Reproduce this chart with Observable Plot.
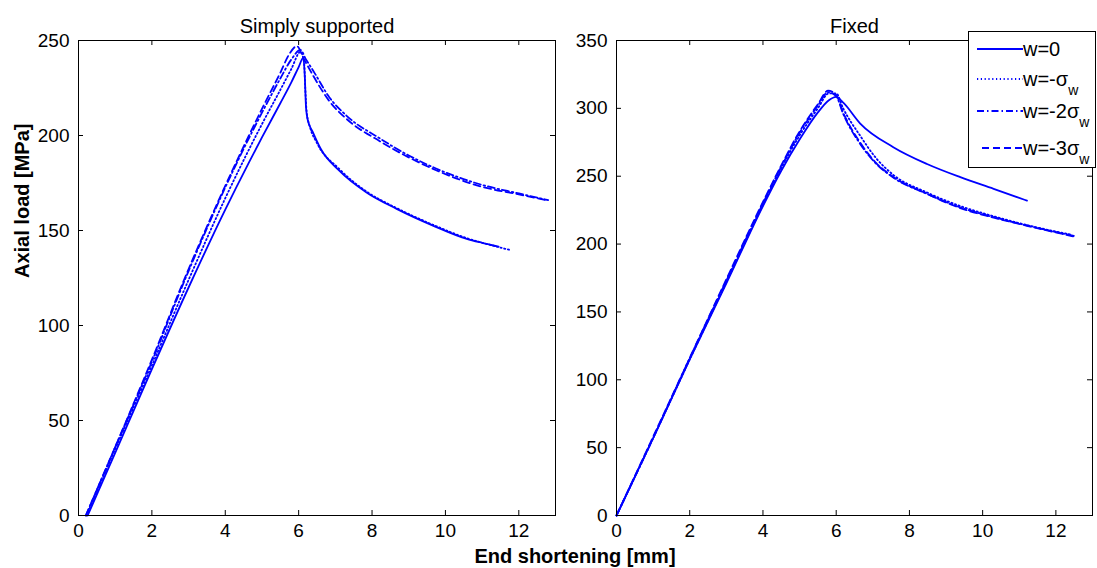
<!DOCTYPE html>
<html><head><meta charset="utf-8">
<script src="https://cdn.jsdelivr.net/npm/d3@7"></script>
<script src="https://cdn.jsdelivr.net/npm/@observablehq/plot@0.6"></script>
<style>
body{margin:0;background:#fff;font-family:"Liberation Sans",Arial,sans-serif;}
#wrap{position:relative;width:1097px;height:568px;overflow:hidden;background:#fff;}
#left,#right{position:absolute;top:0;}
#left{left:0}
#right{left:560px}
#xlabel{position:absolute;left:425px;width:300px;top:546px;text-align:center;font-weight:bold;font-size:20px;line-height:20px;}
#legend{position:absolute;left:968px;top:31px;width:128px;height:137px;border:1px solid #000;background:#fff;box-sizing:border-box;}
.row{position:absolute;left:0;height:20px;width:126px;}
.row svg{position:absolute;left:7px;top:0;}
.row span{position:absolute;left:54px;top:0;font-size:20px;line-height:20px;white-space:nowrap;}
.row sub{font-size:14px;vertical-align:-9px;line-height:0;}
</style>
</head><body>
<div id="wrap">
  <div id="left"></div>
  <div id="right"></div>
  <div id="xlabel"></div>
  <div id="legend"></div>
</div>
<script>
// ---------- data ----------
const xTicks = [0, 2, 4, 6, 8, 10, 12];
const yTicksLeft = [0, 50, 100, 150, 200, 250];
const yTicksRight = [0, 50, 100, 150, 200, 250, 300, 350];
const titles = ["Simply supported", "Fixed"];
const xLabel = "End shortening [mm]";
const yLabel = "Axial load [MPa]";
const seriesNames = ["w=0", "w=-σ", "w=-2σ", "w=-3σ"];

// Simply supported
const ssX0 = [0.25, 1, 2, 3, 4, 4.65, 5, 5.5, 5.8, 6.0, 6.13, 6.17, 6.2, 6.25, 6.38, 6.6, 7.1, 7.85, 8.67, 9.66, 10.58, 11.0, 11.45];
const ssY0 = [0, 33, 77, 120, 161, 186, 199, 217, 228, 236, 241, 230, 215, 208, 202, 193, 181.6, 170, 161.4, 152.6, 145.6, 143.5, 141.5];
const ssX1 = [0.22, 1, 2, 3, 4, 4.5, 5, 5.5, 5.8, 6.05, 6.15, 6.18, 6.22, 6.3, 6.5, 7.1, 7.85, 8.67, 9.66, 10.58, 11.4, 11.75];
const ssY1 = [0, 35, 79, 124, 167, 187, 206, 224, 235, 244, 238, 225, 212, 205, 196, 182.5, 170.5, 161.8, 153, 146, 141.5, 139.8];
const ssX2 = [0.2, 1, 2, 2.92, 4.3, 5, 5.5, 5.8, 6.05, 6.2, 6.4, 6.84, 7.3, 8.21, 9.0, 9.76, 11.0, 12.0, 12.8];
const ssY2 = [0, 36, 81, 125, 185, 212, 230, 240, 245, 240, 234, 220, 210.5, 198.5, 189.5, 182.5, 174, 169.5, 166];
const ssX3 = [0.2, 1, 2, 2.92, 4.3, 5, 5.5, 5.75, 5.95, 6.15, 6.38, 6.84, 7.3, 8.21, 9.0, 9.76, 11.0, 12.0, 12.75];
const ssY3 = [0, 36, 82, 126, 186, 214, 233, 243, 247, 240, 232, 218, 208.8, 197, 188.5, 181.6, 173, 169, 166];

// Fixed
const fxX0 = [0, 1, 2, 3, 4, 4.5, 5, 5.5, 5.8, 6.0, 6.2, 6.65, 7.56, 8.48, 9.39, 10.3, 11.21];
const fxY0 = [0, 57, 115, 171, 228, 254, 277, 297, 306, 308.5, 304, 289, 271.4, 259, 249.3, 240.7, 232];
const fxX1 = [0, 1, 2, 3, 4, 4.5, 5, 5.5, 5.8, 6.0, 6.19, 6.65, 7.1, 7.56, 8.48, 9.39, 10.3, 11.21, 12.4];
const fxY1 = [0, 57, 115, 172, 229, 256, 280, 300, 311, 311, 300, 280, 263, 251, 238, 228, 220.5, 214, 207];
const fxX2 = [0, 1, 2, 3, 4, 4.5, 5, 5.5, 5.78, 6.0, 6.19, 6.65, 7.1, 7.56, 8.48, 9.39, 10.3, 11.21, 12.49];
const fxY2 = [0, 57, 116, 173, 230, 257, 282, 302, 312, 309, 296, 274, 259, 249, 237, 227, 219.8, 213.7, 206];
const fxX3 = [0, 1, 2, 3, 4, 4.5, 5, 5.5, 5.78, 6.0, 6.19, 6.65, 7.1, 7.56, 8.48, 9.39, 10.3, 11.21, 12.5];
const fxY3 = [0, 58, 116, 174, 231, 258, 283, 303, 313, 310, 297, 275, 259.5, 249.5, 237, 226.5, 219.5, 213.5, 205.5];

// ---------- styles ----------
const blue = "#0000ff";
const dashes = [null, "1.2,2.6", "7,3,1.5,3", "7,4"];
const font = '"Liberation Sans", Arial, sans-serif';

function zip(xs, ys) { return xs.map((x, i) => ({x, y: ys[i]})); }

function panel({title, series, yTicks, yDomain, width, marginLeft, withYLabel}) {
  const marginTop = 40, marginBottom = 53, marginRight = 5, height = 568;
  const innerW = width - marginLeft - marginRight;
  const innerH = height - marginTop - marginBottom;
  const tick = 5;
  const marks = [
    ...series.map((s, i) => Plot.line(s, {x: "x", y: "y", stroke: blue, strokeWidth: 1.8,
      curve: "monotone-x", strokeDasharray: dashes[i] || undefined})),
    Plot.frame({stroke: "#000", strokeWidth: 1}),
    Plot.tickX(xTicks, {x: d => d, insetTop: innerH - tick, stroke: "#000"}),
    Plot.tickX(xTicks, {x: d => d, insetBottom: innerH - tick, stroke: "#000"}),
    Plot.tickY(yTicks, {y: d => d, insetRight: innerW - tick, stroke: "#000"}),
    Plot.tickY(yTicks, {y: d => d, insetLeft: innerW - tick, stroke: "#000"}),
    Plot.axisX(xTicks, {tickSize: 0, tickPadding: 8, label: null, fontSize: 19}),
    Plot.axisY(yTicks, {tickSize: 0, tickPadding: 9, label: null, fontSize: 19}),
    Plot.text([title], {text: d => d, frameAnchor: "top", dy: -22, fontSize: 20})
  ];
  if (withYLabel) marks.push(Plot.text([yLabel], {text: d => d, frameAnchor: "left", dx: -56,
    rotate: -90, fontWeight: "bold", fontSize: 20}));
  return Plot.plot({
    width, height, marginLeft, marginRight, marginTop, marginBottom,
    x: {domain: [0, 13]},
    y: {domain: yDomain},
    style: {fontFamily: font, fontSize: "19px", color: "#000", background: "transparent", overflow: "visible"},
    marks
  });
}

document.getElementById("left").appendChild(panel({
  title: titles[0],
  series: [zip(ssX0, ssY0), zip(ssX1, ssY1), zip(ssX2, ssY2), zip(ssX3, ssY3)],
  yTicks: yTicksLeft, yDomain: [0, 250], width: 560, marginLeft: 78, withYLabel: true
}));
document.getElementById("right").appendChild(panel({
  title: titles[1],
  series: [zip(fxX0, fxY0), zip(fxX1, fxY1), zip(fxX2, fxY2), zip(fxX3, fxY3)],
  yTicks: yTicksRight, yDomain: [0, 350], width: 537, marginLeft: 56, withYLabel: false
}));

document.getElementById("xlabel").textContent = xLabel;

// legend
const legend = document.getElementById("legend");
const rowTops = [7, 37, 69, 106];
const lineStarts = [1, 1, 1, 6];
seriesNames.forEach((name, i) => {
  const row = document.createElement("div");
  row.className = "row";
  row.style.top = rowTops[i] + "px";
  const dash = dashes[i] ? ` stroke-dasharray="${dashes[i]}"` : "";
  row.innerHTML = `<svg width="48" height="20"><line x1="${lineStarts[i]}" x2="47" y1="10" y2="10" stroke="${blue}" stroke-width="1.8"${dash}/></svg>` +
    `<span>${name}${i > 0 ? "<sub>w</sub>" : ""}</span>`;
  legend.appendChild(row);
});
</script>
</body></html>
